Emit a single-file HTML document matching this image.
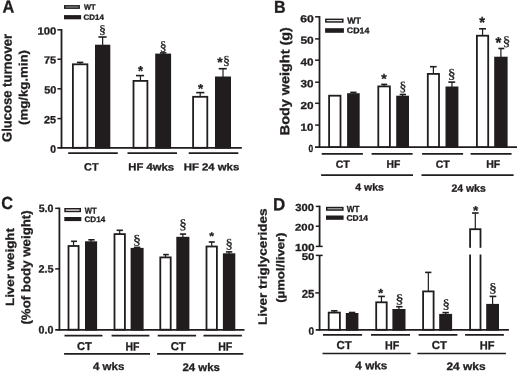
<!DOCTYPE html>
<html><head><meta charset="utf-8"><style>
html,body{margin:0;padding:0;background:#fff;}
body{width:520px;height:374px;overflow:hidden;}
svg{display:block;will-change:transform;}
text{fill:#211d1e;text-rendering:geometricPrecision;stroke:#211d1e;stroke-width:0.3px;}
</style></head><body>
<svg width="520" height="374" viewBox="0 0 520 374">
<rect width="520" height="374" fill="#fff"/>
<g id="gfx">
<rect x="64.75" y="5.85" width="14.40" height="2.30" fill="#bababa" stroke="#211d1e" stroke-width="1.5"/>
<rect x="64.00" y="15.10" width="17.10" height="4.20" fill="#211d1e"/>
<line x1="61.50" y1="29.00" x2="61.50" y2="148.70" stroke="#211d1e" stroke-width="1.8"/>
<line x1="57.30" y1="147.90" x2="241.80" y2="147.90" stroke="#211d1e" stroke-width="1.8"/>
<line x1="57.40" y1="29.80" x2="61.50" y2="29.80" stroke="#211d1e" stroke-width="1.5"/>
<line x1="57.40" y1="59.20" x2="61.50" y2="59.20" stroke="#211d1e" stroke-width="1.5"/>
<line x1="57.40" y1="88.80" x2="61.50" y2="88.80" stroke="#211d1e" stroke-width="1.5"/>
<line x1="57.40" y1="118.60" x2="61.50" y2="118.60" stroke="#211d1e" stroke-width="1.5"/>
<line x1="80.15" y1="64.40" x2="80.15" y2="62.40" stroke="#211d1e" stroke-width="1.2"/>
<line x1="76.95" y1="62.40" x2="83.35" y2="62.40" stroke="#211d1e" stroke-width="1.6"/>
<rect x="72.90" y="64.30" width="14.50" height="83.50" fill="#fff" stroke="#211d1e" stroke-width="1.8"/>
<line x1="102.65" y1="45.70" x2="102.65" y2="37.00" stroke="#211d1e" stroke-width="1.2"/>
<line x1="98.40" y1="37.00" x2="106.60" y2="37.00" stroke="#211d1e" stroke-width="1.6"/>
<rect x="95.00" y="44.70" width="15.30" height="104.00" fill="#211d1e"/>
<line x1="140.45" y1="81.00" x2="140.45" y2="75.60" stroke="#211d1e" stroke-width="1.2"/>
<line x1="136.00" y1="75.60" x2="144.10" y2="75.60" stroke="#211d1e" stroke-width="1.6"/>
<rect x="133.50" y="80.90" width="13.90" height="66.90" fill="#fff" stroke="#211d1e" stroke-width="1.8"/>
<line x1="163.15" y1="54.60" x2="163.15" y2="52.90" stroke="#211d1e" stroke-width="1.2"/>
<line x1="159.95" y1="52.90" x2="166.35" y2="52.90" stroke="#211d1e" stroke-width="1.6"/>
<rect x="155.20" y="53.60" width="15.90" height="95.10" fill="#211d1e"/>
<line x1="200.20" y1="96.90" x2="200.20" y2="92.60" stroke="#211d1e" stroke-width="1.2"/>
<line x1="196.20" y1="92.60" x2="204.40" y2="92.60" stroke="#211d1e" stroke-width="1.6"/>
<rect x="193.10" y="96.80" width="14.20" height="51.00" fill="#fff" stroke="#211d1e" stroke-width="1.8"/>
<line x1="223.00" y1="77.50" x2="223.00" y2="68.70" stroke="#211d1e" stroke-width="1.2"/>
<line x1="218.70" y1="68.70" x2="226.80" y2="68.70" stroke="#211d1e" stroke-width="1.6"/>
<rect x="215.00" y="76.50" width="16.00" height="72.20" fill="#211d1e"/>
<line x1="68.20" y1="153.20" x2="117.80" y2="153.20" stroke="#211d1e" stroke-width="1.7"/>
<line x1="127.50" y1="153.20" x2="177.00" y2="153.20" stroke="#211d1e" stroke-width="1.7"/>
<line x1="188.70" y1="153.20" x2="238.30" y2="153.20" stroke="#211d1e" stroke-width="1.7"/>
<rect x="325.85" y="19.35" width="17.00" height="2.60" fill="#ffffff" stroke="#211d1e" stroke-width="1.5"/>
<rect x="325.10" y="28.20" width="18.80" height="4.60" fill="#211d1e"/>
<line x1="319.50" y1="16.05" x2="319.50" y2="147.90" stroke="#211d1e" stroke-width="1.8"/>
<line x1="315.00" y1="147.10" x2="517.00" y2="147.10" stroke="#211d1e" stroke-width="1.8"/>
<line x1="315.10" y1="16.80" x2="319.50" y2="16.80" stroke="#211d1e" stroke-width="1.5"/>
<line x1="315.10" y1="38.90" x2="319.50" y2="38.90" stroke="#211d1e" stroke-width="1.5"/>
<line x1="315.10" y1="60.20" x2="319.50" y2="60.20" stroke="#211d1e" stroke-width="1.5"/>
<line x1="315.10" y1="82.20" x2="319.50" y2="82.20" stroke="#211d1e" stroke-width="1.5"/>
<line x1="315.10" y1="103.30" x2="319.50" y2="103.30" stroke="#211d1e" stroke-width="1.5"/>
<line x1="315.10" y1="125.10" x2="319.50" y2="125.10" stroke="#211d1e" stroke-width="1.5"/>
<rect x="329.10" y="95.70" width="11.40" height="51.30" fill="#fff" stroke="#211d1e" stroke-width="1.8"/>
<line x1="353.40" y1="94.20" x2="353.40" y2="92.40" stroke="#211d1e" stroke-width="1.2"/>
<line x1="350.20" y1="92.40" x2="356.60" y2="92.40" stroke="#211d1e" stroke-width="1.6"/>
<rect x="347.10" y="93.20" width="12.60" height="54.70" fill="#211d1e"/>
<line x1="384.10" y1="86.50" x2="384.10" y2="84.40" stroke="#211d1e" stroke-width="1.2"/>
<line x1="381.20" y1="84.40" x2="387.20" y2="84.40" stroke="#211d1e" stroke-width="1.6"/>
<rect x="378.30" y="86.40" width="11.60" height="60.60" fill="#fff" stroke="#211d1e" stroke-width="1.8"/>
<line x1="402.60" y1="96.70" x2="402.60" y2="94.50" stroke="#211d1e" stroke-width="1.2"/>
<line x1="399.70" y1="94.50" x2="406.00" y2="94.50" stroke="#211d1e" stroke-width="1.6"/>
<rect x="396.20" y="95.70" width="12.80" height="52.20" fill="#211d1e"/>
<line x1="433.40" y1="74.00" x2="433.40" y2="66.70" stroke="#211d1e" stroke-width="1.2"/>
<line x1="430.00" y1="66.70" x2="436.60" y2="66.70" stroke="#211d1e" stroke-width="1.6"/>
<rect x="427.80" y="73.90" width="11.20" height="73.10" fill="#fff" stroke="#211d1e" stroke-width="1.8"/>
<line x1="451.95" y1="87.50" x2="451.95" y2="82.10" stroke="#211d1e" stroke-width="1.2"/>
<line x1="448.30" y1="82.10" x2="455.20" y2="82.10" stroke="#211d1e" stroke-width="1.6"/>
<rect x="445.50" y="86.50" width="12.90" height="61.40" fill="#211d1e"/>
<line x1="482.55" y1="35.80" x2="482.55" y2="28.80" stroke="#211d1e" stroke-width="1.2"/>
<line x1="479.10" y1="28.80" x2="486.00" y2="28.80" stroke="#211d1e" stroke-width="1.6"/>
<rect x="476.90" y="35.70" width="11.30" height="111.30" fill="#fff" stroke="#211d1e" stroke-width="1.8"/>
<line x1="500.90" y1="57.70" x2="500.90" y2="48.50" stroke="#211d1e" stroke-width="1.2"/>
<line x1="498.40" y1="48.50" x2="504.30" y2="48.50" stroke="#211d1e" stroke-width="1.6"/>
<rect x="494.20" y="56.70" width="13.40" height="91.20" fill="#211d1e"/>
<line x1="321.70" y1="153.80" x2="362.90" y2="153.80" stroke="#211d1e" stroke-width="1.7"/>
<line x1="371.60" y1="153.80" x2="412.60" y2="153.80" stroke="#211d1e" stroke-width="1.7"/>
<line x1="422.10" y1="153.80" x2="463.10" y2="153.80" stroke="#211d1e" stroke-width="1.7"/>
<line x1="470.60" y1="153.80" x2="511.60" y2="153.80" stroke="#211d1e" stroke-width="1.7"/>
<line x1="321.10" y1="175.10" x2="413.00" y2="175.10" stroke="#211d1e" stroke-width="1.7"/>
<line x1="421.50" y1="175.10" x2="513.60" y2="175.10" stroke="#211d1e" stroke-width="1.7"/>
<rect x="65.05" y="208.75" width="15.20" height="2.70" fill="#ffffff" stroke="#211d1e" stroke-width="1.5"/>
<rect x="64.30" y="217.00" width="17.00" height="4.10" fill="#211d1e"/>
<line x1="59.40" y1="207.60" x2="59.40" y2="330.60" stroke="#211d1e" stroke-width="1.8"/>
<line x1="55.20" y1="329.80" x2="244.50" y2="329.80" stroke="#211d1e" stroke-width="1.8"/>
<line x1="55.20" y1="208.30" x2="59.40" y2="208.30" stroke="#211d1e" stroke-width="1.5"/>
<line x1="55.20" y1="268.90" x2="59.40" y2="268.90" stroke="#211d1e" stroke-width="1.5"/>
<line x1="73.55" y1="246.10" x2="73.55" y2="241.30" stroke="#211d1e" stroke-width="1.2"/>
<line x1="71.10" y1="241.30" x2="77.00" y2="241.30" stroke="#211d1e" stroke-width="1.6"/>
<rect x="68.50" y="246.00" width="10.10" height="83.70" fill="#fff" stroke="#211d1e" stroke-width="1.8"/>
<line x1="91.05" y1="242.30" x2="91.05" y2="239.80" stroke="#211d1e" stroke-width="1.2"/>
<line x1="88.30" y1="239.80" x2="94.60" y2="239.80" stroke="#211d1e" stroke-width="1.6"/>
<rect x="85.00" y="241.30" width="12.10" height="89.30" fill="#211d1e"/>
<line x1="119.70" y1="234.20" x2="119.70" y2="230.30" stroke="#211d1e" stroke-width="1.2"/>
<line x1="116.60" y1="230.30" x2="122.90" y2="230.30" stroke="#211d1e" stroke-width="1.6"/>
<rect x="114.50" y="234.10" width="10.40" height="95.60" fill="#fff" stroke="#211d1e" stroke-width="1.8"/>
<line x1="137.10" y1="248.90" x2="137.10" y2="247.40" stroke="#211d1e" stroke-width="1.2"/>
<line x1="133.90" y1="247.40" x2="140.30" y2="247.40" stroke="#211d1e" stroke-width="1.6"/>
<rect x="130.60" y="247.90" width="13.00" height="82.70" fill="#211d1e"/>
<line x1="165.50" y1="257.50" x2="165.50" y2="254.60" stroke="#211d1e" stroke-width="1.2"/>
<line x1="163.20" y1="254.60" x2="168.80" y2="254.60" stroke="#211d1e" stroke-width="1.6"/>
<rect x="160.30" y="257.40" width="10.40" height="72.30" fill="#fff" stroke="#211d1e" stroke-width="1.8"/>
<line x1="182.85" y1="237.80" x2="182.85" y2="234.10" stroke="#211d1e" stroke-width="1.2"/>
<line x1="179.90" y1="234.10" x2="186.10" y2="234.10" stroke="#211d1e" stroke-width="1.6"/>
<rect x="176.30" y="236.80" width="13.10" height="93.80" fill="#211d1e"/>
<line x1="211.70" y1="246.60" x2="211.70" y2="242.00" stroke="#211d1e" stroke-width="1.2"/>
<line x1="208.80" y1="242.00" x2="214.80" y2="242.00" stroke="#211d1e" stroke-width="1.6"/>
<rect x="206.50" y="246.50" width="10.40" height="83.20" fill="#fff" stroke="#211d1e" stroke-width="1.8"/>
<line x1="229.10" y1="254.30" x2="229.10" y2="251.90" stroke="#211d1e" stroke-width="1.2"/>
<line x1="225.90" y1="251.90" x2="232.30" y2="251.90" stroke="#211d1e" stroke-width="1.6"/>
<rect x="222.90" y="253.30" width="12.40" height="77.30" fill="#211d1e"/>
<line x1="64.50" y1="335.60" x2="102.50" y2="335.60" stroke="#211d1e" stroke-width="1.7"/>
<line x1="111.60" y1="335.60" x2="149.40" y2="335.60" stroke="#211d1e" stroke-width="1.7"/>
<line x1="157.70" y1="335.60" x2="196.10" y2="335.60" stroke="#211d1e" stroke-width="1.7"/>
<line x1="203.50" y1="335.60" x2="241.90" y2="335.60" stroke="#211d1e" stroke-width="1.7"/>
<line x1="64.10" y1="353.90" x2="150.00" y2="353.90" stroke="#211d1e" stroke-width="1.7"/>
<line x1="157.10" y1="353.90" x2="243.30" y2="353.90" stroke="#211d1e" stroke-width="1.7"/>
<rect x="326.75" y="207.55" width="16.10" height="2.50" fill="#c8c8c8" stroke="#211d1e" stroke-width="1.5"/>
<rect x="326.00" y="215.50" width="17.60" height="4.30" fill="#211d1e"/>
<line x1="319.60" y1="205.65" x2="319.60" y2="246.40" stroke="#211d1e" stroke-width="1.8"/>
<line x1="319.60" y1="255.40" x2="319.60" y2="330.70" stroke="#211d1e" stroke-width="1.8"/>
<line x1="315.70" y1="329.90" x2="508.90" y2="329.90" stroke="#211d1e" stroke-width="1.8"/>
<line x1="315.80" y1="206.40" x2="319.60" y2="206.40" stroke="#211d1e" stroke-width="1.5"/>
<line x1="315.80" y1="226.20" x2="319.60" y2="226.20" stroke="#211d1e" stroke-width="1.5"/>
<line x1="315.80" y1="246.40" x2="322.70" y2="246.40" stroke="#211d1e" stroke-width="1.5"/>
<line x1="315.80" y1="255.40" x2="322.70" y2="255.40" stroke="#211d1e" stroke-width="1.5"/>
<line x1="315.30" y1="292.90" x2="319.60" y2="292.90" stroke="#211d1e" stroke-width="1.5"/>
<line x1="334.30" y1="312.70" x2="334.30" y2="310.80" stroke="#211d1e" stroke-width="1.2"/>
<line x1="331.10" y1="310.80" x2="337.50" y2="310.80" stroke="#211d1e" stroke-width="1.6"/>
<rect x="328.70" y="312.60" width="11.20" height="17.20" fill="#fff" stroke="#211d1e" stroke-width="1.8"/>
<line x1="352.10" y1="314.00" x2="352.10" y2="312.50" stroke="#211d1e" stroke-width="1.2"/>
<line x1="348.90" y1="312.50" x2="355.30" y2="312.50" stroke="#211d1e" stroke-width="1.6"/>
<rect x="345.80" y="313.00" width="12.60" height="17.70" fill="#211d1e"/>
<line x1="381.45" y1="302.40" x2="381.45" y2="296.40" stroke="#211d1e" stroke-width="1.2"/>
<line x1="378.20" y1="296.40" x2="384.90" y2="296.40" stroke="#211d1e" stroke-width="1.6"/>
<rect x="376.20" y="302.30" width="10.50" height="27.50" fill="#fff" stroke="#211d1e" stroke-width="1.8"/>
<line x1="398.95" y1="310.00" x2="398.95" y2="306.70" stroke="#211d1e" stroke-width="1.2"/>
<line x1="396.20" y1="306.70" x2="402.50" y2="306.70" stroke="#211d1e" stroke-width="1.6"/>
<rect x="392.40" y="309.00" width="13.10" height="21.70" fill="#211d1e"/>
<line x1="428.35" y1="291.50" x2="428.35" y2="272.40" stroke="#211d1e" stroke-width="1.2"/>
<line x1="425.10" y1="272.40" x2="431.40" y2="272.40" stroke="#211d1e" stroke-width="1.6"/>
<rect x="423.10" y="291.40" width="10.50" height="38.40" fill="#fff" stroke="#211d1e" stroke-width="1.8"/>
<line x1="445.65" y1="314.90" x2="445.65" y2="312.60" stroke="#211d1e" stroke-width="1.2"/>
<line x1="442.45" y1="312.60" x2="448.85" y2="312.60" stroke="#211d1e" stroke-width="1.6"/>
<rect x="439.20" y="313.90" width="12.90" height="16.80" fill="#211d1e"/>
<line x1="475.30" y1="229.30" x2="475.30" y2="213.00" stroke="#211d1e" stroke-width="1.2"/>
<line x1="472.00" y1="213.00" x2="478.60" y2="213.00" stroke="#211d1e" stroke-width="1.6"/>
<rect x="470.10" y="229.20" width="10.40" height="100.60" fill="#fff" stroke="#211d1e" stroke-width="1.8"/>
<rect x="467" y="247.8" width="16" height="6.7" fill="#fff"/>
<line x1="492.60" y1="304.90" x2="492.60" y2="296.40" stroke="#211d1e" stroke-width="1.2"/>
<line x1="489.60" y1="296.40" x2="496.30" y2="296.40" stroke="#211d1e" stroke-width="1.6"/>
<rect x="486.20" y="303.90" width="12.80" height="26.80" fill="#211d1e"/>
<line x1="323.00" y1="334.80" x2="362.10" y2="334.80" stroke="#211d1e" stroke-width="1.7"/>
<line x1="371.00" y1="334.80" x2="410.00" y2="334.80" stroke="#211d1e" stroke-width="1.7"/>
<line x1="418.60" y1="334.80" x2="457.40" y2="334.80" stroke="#211d1e" stroke-width="1.7"/>
<line x1="465.10" y1="334.80" x2="503.90" y2="334.80" stroke="#211d1e" stroke-width="1.7"/>
<line x1="322.50" y1="353.50" x2="410.60" y2="353.50" stroke="#211d1e" stroke-width="1.7"/>
<line x1="417.40" y1="353.50" x2="505.90" y2="353.50" stroke="#211d1e" stroke-width="1.7"/>
</g>
<g id="txt">
<text id="A" transform="translate(2.49,12.50) scale(0.9399,1) rotate(0.05)" font-family="Liberation Sans" font-weight="bold" font-size="17.31">A</text>
<text id="alw" transform="translate(83.88,9.50) scale(1.0251,1) rotate(0.05)" font-family="Liberation Sans" font-weight="bold" font-size="7.27">WT</text>
<text id="alk" transform="translate(83.58,19.63) scale(1.0584,1) rotate(0.05)" font-family="Liberation Sans" font-weight="bold" font-size="7.49">CD14</text>
<text id="a100" transform="translate(37.49,34.40) scale(1.0961,1) rotate(0.05)" font-family="Liberation Sans" font-weight="bold" font-size="10.32">100</text>
<text id="a75" transform="translate(43.93,63.60) scale(1.0619,1) rotate(0.05)" font-family="Liberation Sans" font-weight="bold" font-size="10.32">75</text>
<text id="a50" transform="translate(44.15,93.49) scale(1.0274,1) rotate(0.05)" font-family="Liberation Sans" font-weight="bold" font-size="10.60">50</text>
<text id="a25" transform="translate(44.02,123.30) scale(1.0405,1) rotate(0.05)" font-family="Liberation Sans" font-weight="bold" font-size="10.46">25</text>
<text id="a0" transform="translate(50.29,152.69) scale(0.9603,1) rotate(0.05)" font-family="Liberation Sans" font-weight="bold" font-size="10.74">0</text>
<text id="as1" transform="translate(98.99,33.57) scale(1.1393,1) rotate(0.05)" font-family="Liberation Serif" font-weight="normal" font-size="12.21" style="stroke-width:0.25px">§</text>
<text id="aa1" transform="translate(137.97,75.41) scale(0.9486,1) rotate(0.05)" font-family="Liberation Sans" font-weight="bold" font-size="13.69">*</text>
<text id="as2" transform="translate(159.79,50.13) scale(1.0435,1) rotate(0.05)" font-family="Liberation Serif" font-weight="normal" font-size="13.33" style="stroke-width:0.25px">§</text>
<text id="aa2" transform="translate(197.97,93.14) scale(1.0070,1) rotate(0.05)" font-family="Liberation Sans" font-weight="bold" font-size="13.15">*</text>
<text id="aa3" transform="translate(217.17,66.73) scale(1.0256,1) rotate(0.05)" font-family="Liberation Sans" font-weight="bold" font-size="13.42">*</text>
<text id="as3" transform="translate(223.09,64.53) scale(1.1055,1) rotate(0.05)" font-family="Liberation Serif" font-weight="normal" font-size="12.59" style="stroke-width:0.25px">§</text>
<text id="act" transform="translate(84.12,170.49) scale(1.0156,1) rotate(0.05)" font-family="Liberation Sans" font-weight="bold" font-size="10.67">CT</text>
<text id="ahf4" transform="translate(128.29,170.35) scale(1.1235,1) rotate(0.05)" font-family="Liberation Sans" font-weight="bold" font-size="10.07">HF 4wks</text>
<text id="ahf24" transform="translate(183.73,170.30) scale(1.1432,1) rotate(0.05)" font-family="Liberation Sans" font-weight="bold" font-size="9.93">HF 24 wks</text>
<text id="ay1" transform="translate(11.57,142.02) rotate(-89.95) scale(0.9793,1)" font-family="Liberation Sans" font-weight="bold" font-size="13.33">Glucose turnover</text>
<text id="ay2" transform="translate(27.44,124.96) rotate(-89.95) scale(1.0958,1)" font-family="Liberation Sans" font-weight="bold" font-size="12.05">(mg/kg.min)</text>
<text id="B" transform="translate(274.12,12.70) scale(0.9360,1) rotate(0.05)" font-family="Liberation Sans" font-weight="bold" font-size="17.16">B</text>
<text id="blw" transform="translate(347.18,23.60) scale(1.0349,1) rotate(0.05)" font-family="Liberation Sans" font-weight="bold" font-size="8.58">WT</text>
<text id="blk" transform="translate(346.85,33.12) scale(1.0929,1) rotate(0.05)" font-family="Liberation Sans" font-weight="bold" font-size="8.06">CD14</text>
<text id="b60" transform="translate(300.34,22.30) scale(1.2160,1) rotate(0.05)" font-family="Liberation Sans" font-weight="bold" font-size="10.04">60</text>
<text id="b50" transform="translate(300.41,43.80) scale(1.1744,1) rotate(0.05)" font-family="Liberation Sans" font-weight="bold" font-size="10.18">50</text>
<text id="b40" transform="translate(300.53,65.40) scale(1.1299,1) rotate(0.05)" font-family="Liberation Sans" font-weight="bold" font-size="10.32">40</text>
<text id="b30" transform="translate(300.54,87.17) scale(1.1026,1) rotate(0.05)" font-family="Liberation Sans" font-weight="bold" font-size="10.56">30</text>
<text id="b20" transform="translate(300.39,108.90) scale(1.1583,1) rotate(0.05)" font-family="Liberation Sans" font-weight="bold" font-size="10.18">20</text>
<text id="b10" transform="translate(300.59,130.80) scale(1.1063,1) rotate(0.05)" font-family="Liberation Sans" font-weight="bold" font-size="10.32">10</text>
<text id="b0" transform="translate(308.46,151.90) scale(0.8161,1) rotate(0.05)" font-family="Liberation Sans" font-weight="bold" font-size="10.32">0</text>
<text id="ba1" transform="translate(381.26,83.50) scale(1.0047,1) rotate(0.05)" font-family="Liberation Sans" font-weight="bold" font-size="13.96">*</text>
<text id="bs1" transform="translate(399.51,90.72) scale(1.0123,1) rotate(0.05)" font-family="Liberation Serif" font-weight="normal" font-size="13.46" style="stroke-width:0.25px">§</text>
<text id="bs2" transform="translate(447.65,78.19) scale(1.1419,1) rotate(0.05)" font-family="Liberation Serif" font-weight="normal" font-size="13.71" style="stroke-width:0.25px">§</text>
<text id="ba2" transform="translate(479.36,27.42) scale(0.9675,1) rotate(0.05)" font-family="Liberation Sans" font-weight="bold" font-size="15.30">*</text>
<text id="ba3" transform="translate(495.46,47.72) scale(0.9675,1) rotate(0.05)" font-family="Liberation Sans" font-weight="bold" font-size="15.30">*</text>
<text id="bs3" transform="translate(502.79,45.49) scale(1.0996,1) rotate(0.05)" font-family="Liberation Serif" font-weight="normal" font-size="13.71" style="stroke-width:0.25px">§</text>
<text id="bct1" transform="translate(335.68,167.70) scale(1.0064,1) rotate(0.05)" font-family="Liberation Sans" font-weight="bold" font-size="10.46">CT</text>
<text id="bhf1" transform="translate(386.40,167.80) scale(0.9668,1) rotate(0.05)" font-family="Liberation Sans" font-weight="bold" font-size="10.76">HF</text>
<text id="bct2" transform="translate(435.68,167.70) scale(1.0064,1) rotate(0.05)" font-family="Liberation Sans" font-weight="bold" font-size="10.46">CT</text>
<text id="bhf2" transform="translate(486.19,167.80) scale(0.9819,1) rotate(0.05)" font-family="Liberation Sans" font-weight="bold" font-size="10.76">HF</text>
<text id="b4w" transform="translate(355.34,190.40) scale(1.0426,1) rotate(0.05)" font-family="Liberation Sans" font-weight="bold" font-size="10.07">4 wks</text>
<text id="b24w" transform="translate(451.54,191.70) scale(0.9948,1) rotate(0.05)" font-family="Liberation Sans" font-weight="bold" font-size="10.48">24 wks</text>
<text id="by" transform="translate(289.31,135.17) rotate(-89.95) scale(1.0985,1)" font-family="Liberation Sans" font-weight="bold" font-size="13.12">Body weight (g)</text>
<text id="C" transform="translate(1.35,209.12) scale(0.9321,1) rotate(0.05)" font-family="Liberation Sans" font-weight="bold" font-size="17.53">C</text>
<text id="clw" transform="translate(84.78,213.60) scale(0.9145,1) rotate(0.05)" font-family="Liberation Sans" font-weight="bold" font-size="8.44">WT</text>
<text id="clk" transform="translate(84.47,222.02) scale(1.0268,1) rotate(0.05)" font-family="Liberation Sans" font-weight="bold" font-size="7.92">CD14</text>
<text id="c50" transform="translate(38.65,211.99) scale(1.0024,1) rotate(0.05)" font-family="Liberation Sans" font-weight="bold" font-size="10.60">5.0</text>
<text id="c25" transform="translate(38.42,272.39) scale(1.0304,1) rotate(0.05)" font-family="Liberation Sans" font-weight="bold" font-size="10.60">2.5</text>
<text id="c00" transform="translate(38.57,333.39) scale(0.9820,1) rotate(0.05)" font-family="Liberation Sans" font-weight="bold" font-size="10.88">0.0</text>
<text id="cs1" transform="translate(132.92,244.02) scale(1.1846,1) rotate(0.05)" font-family="Liberation Serif" font-weight="normal" font-size="13.46" style="stroke-width:0.25px">§</text>
<text id="cs2" transform="translate(179.29,228.66) scale(1.0800,1) rotate(0.05)" font-family="Liberation Serif" font-weight="normal" font-size="13.96" style="stroke-width:0.25px">§</text>
<text id="ca1" transform="translate(209.17,239.51) scale(1.1967,1) rotate(0.05)" font-family="Liberation Sans" font-weight="bold" font-size="10.20">*</text>
<text id="cs3" transform="translate(225.42,247.93) scale(1.1087,1) rotate(0.05)" font-family="Liberation Serif" font-weight="normal" font-size="13.33" style="stroke-width:0.25px">§</text>
<text id="cct1" transform="translate(76.96,349.99) scale(0.9792,1) rotate(0.05)" font-family="Liberation Sans" font-weight="bold" font-size="11.31">CT</text>
<text id="chf1" transform="translate(125.39,350.40) scale(0.9013,1) rotate(0.05)" font-family="Liberation Sans" font-weight="bold" font-size="11.64">HF</text>
<text id="cct2" transform="translate(170.75,350.28) scale(0.9571,1) rotate(0.05)" font-family="Liberation Sans" font-weight="bold" font-size="11.73">CT</text>
<text id="chf2" transform="translate(218.19,350.40) scale(0.9083,1) rotate(0.05)" font-family="Liberation Sans" font-weight="bold" font-size="11.64">HF</text>
<text id="c4w" transform="translate(92.93,370.09) scale(1.0743,1) rotate(0.05)" font-family="Liberation Sans" font-weight="bold" font-size="10.75">4 wks</text>
<text id="c24w" transform="translate(182.40,370.89) scale(1.0391,1) rotate(0.05)" font-family="Liberation Sans" font-weight="bold" font-size="11.02">24 wks</text>
<text id="cy1" transform="translate(13.98,306.00) rotate(-89.95) scale(1.1286,1)" font-family="Liberation Sans" font-weight="bold" font-size="11.84">Liver weight</text>
<text id="cy2" transform="translate(30.23,324.56) rotate(-89.95) scale(1.0550,1)" font-family="Liberation Sans" font-weight="bold" font-size="12.59">(%of body weight)</text>
<text id="D" transform="translate(272.95,210.20) scale(0.9728,1) rotate(0.05)" font-family="Liberation Sans" font-weight="bold" font-size="17.45">D</text>
<text id="dlw" transform="translate(346.78,212.10) scale(0.9133,1) rotate(0.05)" font-family="Liberation Sans" font-weight="bold" font-size="8.87">WT</text>
<text id="dlk" transform="translate(346.46,220.67) scale(1.0393,1) rotate(0.05)" font-family="Liberation Sans" font-weight="bold" font-size="8.13">CD14</text>
<text id="d300" transform="translate(295.25,210.97) scale(1.0908,1) rotate(0.05)" font-family="Liberation Sans" font-weight="bold" font-size="10.28">300</text>
<text id="d200" transform="translate(295.10,230.50) scale(1.1760,1) rotate(0.05)" font-family="Liberation Sans" font-weight="bold" font-size="9.61">200</text>
<text id="d100" transform="translate(294.96,251.10) scale(1.1457,1) rotate(0.05)" font-family="Liberation Sans" font-weight="bold" font-size="10.32">100</text>
<text id="d50" transform="translate(301.63,259.90) scale(1.1662,1) rotate(0.05)" font-family="Liberation Sans" font-weight="bold" font-size="9.75">50</text>
<text id="d25" transform="translate(301.70,297.69) scale(1.0047,1) rotate(0.05)" font-family="Liberation Sans" font-weight="bold" font-size="11.31">25</text>
<text id="d0" transform="translate(308.60,334.69) scale(0.9407,1) rotate(0.05)" font-family="Liberation Sans" font-weight="bold" font-size="10.74">0</text>
<text id="da1" transform="translate(378.27,296.75) scale(1.1058,1) rotate(0.05)" font-family="Liberation Sans" font-weight="bold" font-size="11.28">*</text>
<text id="ds1" transform="translate(395.50,302.91) scale(1.2771,1) rotate(0.05)" font-family="Liberation Serif" font-weight="normal" font-size="12.71" style="stroke-width:0.25px">§</text>
<text id="ds2" transform="translate(442.62,308.15) scale(1.1192,1) rotate(0.05)" font-family="Liberation Serif" font-weight="normal" font-size="13.21" style="stroke-width:0.25px">§</text>
<text id="da2" transform="translate(472.97,214.41) scale(1.1180,1) rotate(0.05)" font-family="Liberation Sans" font-weight="bold" font-size="12.08">*</text>
<text id="ds3" transform="translate(489.02,292.06) scale(1.2184,1) rotate(0.05)" font-family="Liberation Serif" font-weight="normal" font-size="13.08" style="stroke-width:0.25px">§</text>
<text id="dct1" transform="translate(336.44,349.09) scale(1.0012,1) rotate(0.05)" font-family="Liberation Sans" font-weight="bold" font-size="11.45">CT</text>
<text id="dhf1" transform="translate(385.08,349.20) scale(0.9109,1) rotate(0.05)" font-family="Liberation Sans" font-weight="bold" font-size="11.78">HF</text>
<text id="dct2" transform="translate(431.64,349.09) scale(1.0012,1) rotate(0.05)" font-family="Liberation Sans" font-weight="bold" font-size="11.45">CT</text>
<text id="dhf2" transform="translate(479.85,349.20) scale(0.9385,1) rotate(0.05)" font-family="Liberation Sans" font-weight="bold" font-size="11.78">HF</text>
<text id="d4w" transform="translate(355.32,369.19) scale(1.0815,1) rotate(0.05)" font-family="Liberation Sans" font-weight="bold" font-size="10.88">4 wks</text>
<text id="d24w" transform="translate(446.48,370.09) scale(1.1089,1) rotate(0.05)" font-family="Liberation Sans" font-weight="bold" font-size="10.75">24 wks</text>
<text id="dy1" transform="translate(266.74,325.11) rotate(-89.95) scale(1.1244,1)" font-family="Liberation Sans" font-weight="bold" font-size="12.05">Liver triglycerides</text>
<text id="dy2" transform="translate(284.16,302.76) rotate(-89.95) scale(1.1661,1)" font-family="Liberation Sans" font-weight="bold" font-size="11.26">(µmol/liver)</text>
</g>
</svg>
</body></html>
